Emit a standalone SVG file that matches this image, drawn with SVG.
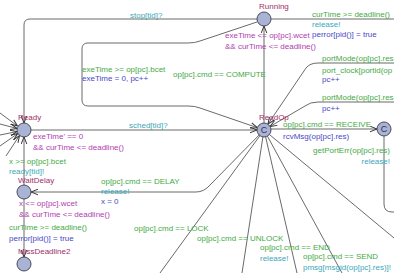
<svg xmlns="http://www.w3.org/2000/svg" width="394" height="273" viewBox="0 0 394 273">
<style>
text{font-family:"Liberation Sans",Arial,sans-serif;font-size:8px}
.nm{fill:#a0306a}
.g{fill:#44aa44}
.s{fill:#3aa8b8}
.u{fill:#4848c8}
.i{fill:#b040b0}
.node{fill:#a9b3d6;stroke:#4a4a5a;stroke-width:1}
.e{fill:none;stroke:#444;stroke-width:0.8}
.a{marker-end:url(#arr)}
.c{font-size:9px;fill:#334;text-anchor:middle}
</style>
<defs>
<marker id="arr" viewBox="0 0 10 10" refX="10" refY="5" markerWidth="7" markerHeight="7" orient="auto" markerUnits="userSpaceOnUse">
<path d="M0,1 L10,5 L0,9" fill="none" stroke="#333" stroke-width="1.4"/>
</marker>
</defs>
<rect width="394" height="273" fill="#fff"/>
<g id="connectors">
<path class="e a" d="M257,19 L30,19 Q24,19 24,25 L24,123"/>
<path class="e" d="M271,19 L394,19"/>
<path class="e a" d="M257,22 L200,41 Q195,43 188,43 L88,43 Q82,43 82,49 L82,100 Q82,106 88,106 L188,106 Q195,106 200,108 L257.4,127.7"/>
<path class="e a" d="M264,123 L264,26"/>
<path class="e a" d="M31,130 L257,130"/>
<path class="e a" d="M271,129 L377,129"/>
<path class="e a" d="M394,63 L318,63 Q310,63 306,68 L267.9,124.2"/>
<path class="e a" d="M394,102 L318,102 Q310,102 305,106 L270,126.5"/>
<path class="e" d="M384,136 L384,204 Q384,212 392,212 L394,212"/>
<path class="e a" d="M259.1,135 L210,185 Q204,192 196,192 L31,192"/>
<path class="e" d="M259.9,135.7 L160,273"/>
<path class="e" d="M262.9,136.9 L242,273"/>
<path class="e" d="M265.6,136.8 L297,273"/>
<path class="e" d="M267.4,136.1 L342,273"/>
<path class="e" d="M269.4,134.5 L394,238"/>
<path class="e a" d="M24,185 L24,137"/>
<path class="e a" d="M24,199 L24,257"/>
<path class="e a" d="M0,113 L17.5,126"/>
<path class="e a" d="M0,124 L17.2,128.5"/>
<path class="e a" d="M0,135 L17.2,131.5"/>
<path class="e a" d="M0,146 L17.8,133.5"/>
<path class="e a" d="M6,156 L19.5,135.5"/>
</g>
<g id="Running">
<circle class="node" cx="264" cy="19" r="7"/>
<text class="nm" x="259" y="9">Running</text>
<text class="i" x="225" y="38">exeTime &lt;= op[pc].wcet</text>
<text class="i" x="225" y="49">&amp;&amp; curTime &lt;= deadline()</text>
</g>
<g id="Ready">
<circle class="node" cx="24" cy="130" r="7"/>
<text class="nm" x="18" y="120">Ready</text>
<text class="i" x="33" y="139">exeTime' == 0</text>
<text class="i" x="33" y="150">&amp;&amp; curTime &lt;= deadline()</text>
</g>
<g id="ReadOp">
<circle class="node" cx="264" cy="130" r="7"/>
<text class="c" x="264" y="133.3">C</text>
<text class="nm" x="259" y="120">ReadOp</text>
</g>
<g id="ReceiveC">
<circle class="node" cx="384" cy="129" r="7"/>
<text class="c" x="384" y="132.3">C</text>
</g>
<g id="WaitDelay">
<circle class="node" cx="24" cy="192" r="7"/>
<text class="nm" x="18" y="183">WaitDelay</text>
<text class="i" x="19" y="206">x &lt;= op[pc].wcet</text>
<text class="i" x="19" y="217">&amp;&amp; curTime &lt;= deadline()</text>
</g>
<g id="MissDeadline2">
<circle class="node" cx="24" cy="264" r="7"/>
<text class="nm" x="18" y="254">MissDeadline2</text>
</g>
<g id="labels">
<text class="s" x="130" y="18">stop[tid]?</text>
<text class="g" x="312" y="17">curTime &gt;= deadline()</text>
<text class="s" x="312" y="27">release!</text>
<text class="u" x="312" y="37">perror[pid()] = true</text>
<text class="g" x="82" y="72">exeTime &gt;= op[pc].bcet</text>
<text class="u" x="82" y="81">exeTime = 0, pc++</text>
<text class="g" x="173" y="77">op[pc].cmd == COMPUTE</text>
<text class="g" x="322" y="61">portMode(op[pc].res</text>
<text class="g" x="322" y="73">port_clock[portid(op</text>
<text class="u" x="322" y="82">pc++</text>
<text class="g" x="322" y="100">portMode(op[pc].res</text>
<text class="u" x="322" y="111">pc++</text>
<text class="s" x="129" y="128">sched[tid]?</text>
<text class="g" x="283" y="127">op[pc].cmd == RECEIVE</text>
<text class="u" x="283" y="139">rcvMsg(op[pc].res)</text>
<text class="g" x="390" y="153" text-anchor="end">getPortErr(op[pc].res)</text>
<text class="s" x="390" y="164" text-anchor="end">release!</text>
<text class="g" x="9" y="164">x &gt;= op[pc].bcet</text>
<text class="s" x="9" y="174">ready[tid]!</text>
<text class="g" x="101" y="184">op[pc].cmd == DELAY</text>
<text class="s" x="101" y="194">release!</text>
<text class="u" x="101" y="204">x = 0</text>
<text class="g" x="9" y="230">curTime &gt;= deadline()</text>
<text class="u" x="9" y="241">perror[pid()] = true</text>
<text class="g" x="134" y="231">op[pc].cmd == LOCK</text>
<text class="g" x="197" y="241">op[pc].cmd == UNLOCK</text>
<text class="g" x="260" y="250">op[pc].cmd == END</text>
<text class="s" x="260" y="261">release!</text>
<text class="g" x="303" y="259">op[pc].cmd == SEND</text>
<text class="s" x="303" y="270">pmsg[msgid(op[pc].res)]!</text>
</g>
</svg>
